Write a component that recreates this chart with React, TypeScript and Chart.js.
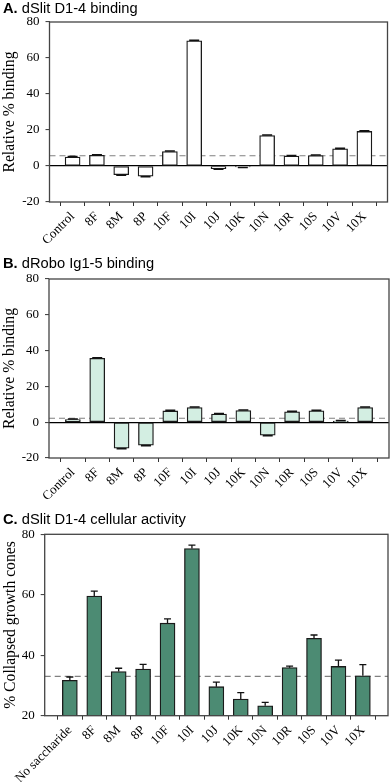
import React, { useEffect, useRef } from 'react';
import { Chart, registerables } from 'chart.js';

Chart.register(...registerables);

// ---------- data ----------
const bindingCategories = ['Control', '8F', '8M', '8P', '10F', '10I', '10J', '10K', '10N', '10R', '10S', '10V', '10X'];
const activityCategories = ['No saccharide', '8F', '8M', '8P', '10F', '10I', '10J', '10K', '10N', '10R', '10S', '10V', '10X'];

const slitBinding = [5.0, 5.9, -4.8, -5.7, 8.0, 69.6, -1.5, -0.5, 16.9, 5.5, 5.8, 9.5, 19.2];
const slitBindingErr = [0.3, 0.3, 0.3, 0.3, 0.3, 0.3, 0.3, 0.3, 0.3, 0.3, 0.3, 0.3, 0.3];
const slitReference = 5.7;

const roboBinding = [1.5, 35.7, -14.5, -12.8, 6.3, 8.2, 4.5, 6.5, -7.3, 5.8, 6.4, 0.6, 8.2];
const roboBindingErr = [0.3, 0.3, 0.3, 0.3, 0.3, 0.3, 0.3, 0.3, 0.3, 0.3, 0.3, 0.3, 0.3];
const roboReference = 2.2;

const collapsedCones = [31.7, 59.6, 34.6, 35.4, 50.6, 75.3, 29.6, 25.5, 23.3, 35.9, 45.6, 36.3, 33.2];
const collapsedConesErr = [1.1, 1.6, 1.1, 1.6, 1.4, 1.1, 1.5, 2.1, 1.1, 0.5, 1.1, 2.1, 3.7];
const activityReference = 33.0;

const bindingRange = [-20, 80];
const activityRange = [20, 80];
const tickStep = 20;

// ---------- plugin ----------
const panelPlugin = {
  id: 'panel',
  beforeDatasetsDraw(chart: any, _a: any, o: any) {
    const { ctx, chartArea } = chart;
    const y = chart.scales.y;
    const py = y.getPixelForValue(o.reference);
    ctx.save();
    ctx.strokeStyle = '#808080';
    ctx.lineWidth = 1.2;
    ctx.setLineDash([6, 4]);
    ctx.beginPath();
    ctx.moveTo(chartArea.left, py);
    ctx.lineTo(chartArea.right, py);
    ctx.stroke();
    ctx.restore();
  },
  afterDatasetsDraw(chart: any, _a: any, o: any) {
    const { ctx } = chart;
    const y = chart.scales.y;
    const meta = chart.getDatasetMeta(0);
    const data = chart.data.datasets[0].data;
    ctx.save();
    ctx.strokeStyle = '#111';
    ctx.lineWidth = o.errLineWidth;
    meta.data.forEach((el: any, i: number) => {
      const v = data[i].y;
      const e = o.errors[i];
      const end = y.getPixelForValue(v >= 0 ? v + e : v - e);
      ctx.beginPath();
      ctx.moveTo(el.x, el.y);
      ctx.lineTo(el.x, end);
      ctx.moveTo(el.x - o.capWidth / 2, end);
      ctx.lineTo(el.x + o.capWidth / 2, end);
      ctx.stroke();
    });
    ctx.restore();
  },
  afterDraw(chart: any, _a: any, o: any) {
    const { ctx, chartArea } = chart;
    ctx.save();
    // frame around plot area
    ctx.strokeStyle = '#444';
    ctx.lineWidth = 1.3;
    ctx.strokeRect(chartArea.left, chartArea.top, chartArea.right - chartArea.left, chartArea.bottom - chartArea.top);
    // panel title: bold letter + normal text
    ctx.fillStyle = '#000';
    ctx.textBaseline = 'alphabetic';
    ctx.textAlign = 'left';
    ctx.font = `bold ${o.titleSize}px "Liberation Sans", Arial, sans-serif`;
    ctx.fillText(o.titleLabel, o.titleX, o.titleY);
    const w = ctx.measureText(o.titleLabel).width;
    ctx.font = `${o.titleSize}px "Liberation Sans", Arial, sans-serif`;
    ctx.fillText(o.titleText, o.titleX + w, o.titleY);
    // y axis title, centred on the plot area
    const cy = (chartArea.top + chartArea.bottom) / 2;
    ctx.translate(o.yTitleX, cy);
    ctx.rotate(-Math.PI / 2);
    ctx.textAlign = 'center';
    ctx.textBaseline = 'middle';
    ctx.font = `${o.yTitleSize}px "Liberation Serif", "Times New Roman", serif`;
    ctx.fillText(o.yTitle, 0, 0);
    ctx.restore();
  },
};

type PanelSpec = {
  categories: string[];
  values: number[];
  errors: number[];
  reference: number;
  range: number[];
  fill: string;
  zeroLine: boolean;
  height: number;
  padTop: number;
  padRight: number;
  yWidth: number;
  xHeight: number;
  xMin: number;
  xMax: number;
  capWidth: number;
  errLineWidth: number;
  titleLabel: string;
  titleText: string;
  titleY: number;
  yTitle: string;
  yTitleX: number;
  yTitleSize: number;
};

const serif = '"Liberation Serif", "Times New Roman", serif';

function makeConfig(p: PanelSpec): any {
  return {
    type: 'bar',
    data: {
      datasets: [
        {
          data: p.values.map((v, i) => ({ x: i, y: v })),
          backgroundColor: p.fill,
          borderColor: '#1a1a1a',
          borderWidth: 1.3,
          borderSkipped: false,
          barThickness: 15,
        },
      ],
    },
    plugins: [panelPlugin],
    options: {
      animation: false,
      responsive: false,
      devicePixelRatio: 1,
      layout: { padding: { top: p.padTop, right: p.padRight, left: 0, bottom: 0 } },
      plugins: {
        legend: { display: false },
        tooltip: { enabled: false },
        panel: {
          reference: p.reference,
          errors: p.errors,
          capWidth: p.capWidth,
          errLineWidth: p.errLineWidth,
          titleLabel: p.titleLabel,
          titleText: p.titleText,
          titleX: 3,
          titleY: p.titleY,
          titleSize: 14.7,
          yTitle: p.yTitle,
          yTitleX: p.yTitleX,
          yTitleSize: p.yTitleSize,
        },
      },
      scales: {
        x: {
          type: 'linear',
          min: p.xMin,
          max: p.xMax,
          offset: false,
          border: { display: false },
          grid: { drawOnChartArea: false, drawTicks: true, tickLength: 4, tickColor: '#333', tickWidth: 1 },
          afterBuildTicks: (s: any) => {
            s.ticks = p.categories.map((_, i) => ({ value: i }));
          },
          afterFit: (s: any) => {
            s.height = p.xHeight;
          },
          ticks: {
            autoSkip: false,
            minRotation: 45,
            maxRotation: 45,
            padding: 3,
            color: '#000',
            font: { family: serif, size: 13 },
            callback: (_v: any, i: number) => p.categories[i],
          },
        },
        y: {
          type: 'linear',
          min: p.range[0],
          max: p.range[1],
          border: { display: false },
          afterFit: (s: any) => {
            s.width = p.yWidth;
          },
          grid: {
            drawOnChartArea: p.zeroLine,
            color: (c: any) => (c.tick && c.tick.value === 0 ? '#000' : 'rgba(0,0,0,0)'),
            lineWidth: 1.2,
            tickLength: 4,
            tickColor: '#333',
            tickWidth: 1,
          },
          ticks: {
            stepSize: tickStep,
            padding: 6,
            color: '#000',
            font: { family: serif, size: 13 },
          },
        },
      },
    },
  };
}

function Panel({ top, spec }: { top: number; spec: PanelSpec }) {
  const ref = useRef<HTMLCanvasElement>(null);
  useEffect(() => {
    const chart = new Chart(ref.current as HTMLCanvasElement, makeConfig(spec));
    return () => chart.destroy();
  }, []);
  return (
    <canvas
      ref={ref}
      width={392}
      height={spec.height}
      style={{ position: 'absolute', left: 0, top, width: 392, height: spec.height }}
    />
  );
}

const panelA: PanelSpec = {
  categories: bindingCategories,
  values: slitBinding,
  errors: slitBindingErr,
  reference: slitReference,
  range: bindingRange,
  fill: '#ffffff',
  zeroLine: true,
  height: 255,
  padTop: 22,
  padRight: 4.5,
  yWidth: 49.5,
  xHeight: 53,
  xMin: -0.95,
  xMax: 12.95,
  capWidth: 10,
  errLineWidth: 1.6,
  titleLabel: 'A.',
  titleText: ' dSlit D1-4 binding',
  titleY: 12.8,
  yTitle: 'Relative % binding',
  yTitleX: 9.5,
  yTitleSize: 15.7,
};

const panelB: PanelSpec = {
  categories: bindingCategories,
  values: roboBinding,
  errors: roboBindingErr,
  reference: roboReference,
  range: bindingRange,
  fill: '#d3eee2',
  zeroLine: true,
  height: 250,
  padTop: 24,
  padRight: 3,
  yWidth: 49,
  xHeight: 47,
  xMin: -0.98,
  xMax: 12.98,
  capWidth: 10,
  errLineWidth: 1.6,
  titleLabel: 'B.',
  titleText: ' dRobo Ig1-5 binding',
  titleY: 13.3,
  yTitle: 'Relative % binding',
  yTitleX: 9.5,
  yTitleSize: 15.7,
};

const panelC: PanelSpec = {
  categories: activityCategories,
  values: collapsedCones,
  errors: collapsedConesErr,
  reference: activityReference,
  range: activityRange,
  fill: '#4c8b73',
  zeroLine: false,
  height: 277,
  padTop: 29.3,
  padRight: 4,
  yWidth: 44.7,
  xHeight: 66.3,
  xMin: -1.03,
  xMax: 13.03,
  capWidth: 7,
  errLineWidth: 1.3,
  titleLabel: 'C.',
  titleText: ' dSlit D1-4 cellular activity',
  titleY: 19,
  yTitle: '% Collapsed growth cones',
  yTitleX: 10.5,
  yTitleSize: 15.7,
};

export default function App() {
  return (
    <div style={{ position: 'absolute', left: 0, top: 0, width: 392, height: 782, background: '#fff' }}>
      <Panel top={0} spec={panelA} />
      <Panel top={255} spec={panelB} />
      <Panel top={505} spec={panelC} />
    </div>
  );
}
